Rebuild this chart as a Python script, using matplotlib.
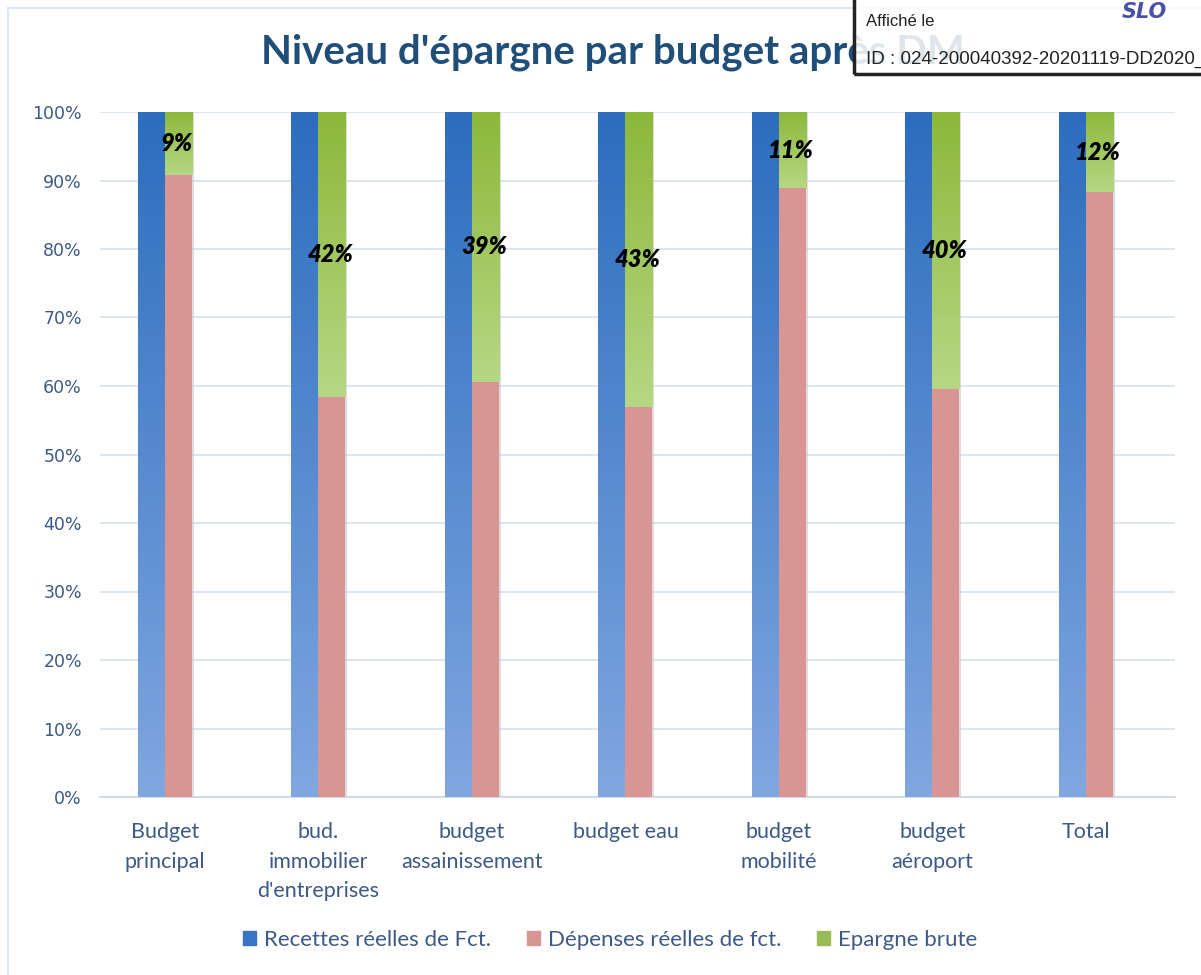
import numpy as np
import matplotlib
matplotlib.use("Agg")
import matplotlib.pyplot as plt
from matplotlib.colors import LinearSegmentedColormap
from matplotlib.patches import Rectangle, Patch

# data (% of Recettes réelles de fonctionnement)
categories = ["Budget\nprincipal", "bud.\nimmobilier\nd'entreprises", "budget\nassainissement",
              "budget eau", "budget\nmobilité", "budget\naéroport", "Total"]
recettes = [100, 100, 100, 100, 100, 100, 100]
depenses = [90.8, 58.4, 60.6, 57.0, 88.9, 59.6, 88.3]
epargne = [9.2, 41.6, 39.4, 43.0, 11.1, 40.4, 11.7]
series_names = ["Recettes réelles de Fct.", "Dépenses réelles de fct.", "Epargne brute"]
yticks = [0, 10, 20, 30, 40, 50, 60, 70, 80, 90, 100]

text_col = "#3C5A85"
grid_col = "#D6E1F1"
blue_cmap = LinearSegmentedColormap.from_list("b", ["#80A7E0", "#2C6DBE"])
green_cmap = LinearSegmentedColormap.from_list("g", ["#B6D784", "#8CB83A"])
pink = "#D99594"

plt.rcParams['font.family'] = ['Lato', 'DejaVu Sans']

fig = plt.figure(figsize=(12.01, 9.75), dpi=100)
ax = fig.add_axes([100/1201, 1-797/975, 1075/1201, 685/975])

w = 0.176
grad = np.linspace(0, 1, 256).reshape(-1, 1)
x = np.arange(len(categories))

for i in x:
    # blue bar with vertical gradient
    ax.imshow(grad, cmap=blue_cmap, origin="lower", aspect="auto",
              extent=[i - w, i, 0, recettes[i]], zorder=3)
    # pink bar
    ax.bar(i + w/2, depenses[i], width=w, color=pink, zorder=3, linewidth=0)
    # green bar stacked
    ax.imshow(grad, cmap=green_cmap, origin="lower", aspect="auto",
              extent=[i, i + w, depenses[i], depenses[i] + epargne[i]], zorder=3)
    # light shadow on right edge
    ax.plot([i + w + 0.006, i + w + 0.006], [0, 100], color="#C8C8C8", lw=1.5, alpha=0.6, zorder=2)
    ax.text(i + w/2 - 0.01, depenses[i] + epargne[i]/2, f"{round(epargne[i])}%",
            ha="center", va="center", fontsize=17, fontweight="heavy", fontstyle="italic",
            color="black", zorder=5)

ax.set_xlim(-0.423, 6.58)
ax.set_ylim(0, 100)
ax.set_yticks(yticks)
ax.set_yticklabels([f"{t}%" for t in yticks], fontsize=12.5, color=text_col, family="DejaVu Sans")
ax.set_xticks(x)
ax.set_xticklabels(categories, fontsize=15.5, color=text_col, linespacing=1.6, va="top")
ax.tick_params(axis="y", length=0, pad=13)
ax.tick_params(axis="x", length=0, pad=18)
ax.grid(axis="y", color=grid_col, lw=1.2, zorder=0)
for s in ["top", "right", "left"]:
    ax.spines[s].set_visible(False)
ax.spines["bottom"].set_color("#C9D5E8")
ax.spines["bottom"].set_linewidth(1.2)

fig.text(261/1201, 1-52/975, "Niveau d'épargne par budget après DM", fontsize=29,
         fontweight="bold", color="#1F4E79", ha="left", va="center", zorder=1)

handles = [Patch(color="#3A75C4"), Patch(color=pink), Patch(color="#9BBB59")]
fig.legend(handles, series_names, loc="center", bbox_to_anchor=(0.508, 1-940/975), ncol=3,
           frameon=False, fontsize=16, handlelength=0.6, handleheight=0.6,
           columnspacing=1.6, handletextpad=0.35, labelcolor=text_col)

# outer chart border
fig.patches.append(Rectangle((8/1201, -0.05), 1.2, 1 - 8/975 + 0.05, transform=fig.transFigure,
                             fill=False, edgecolor="#DCE6F2", lw=1.5, zorder=0))

# "Affiché le" stamp overlapping the top right corner (title shows faintly through)
stamp_xy = (854/1201, 1-74/975)
fig.patches.append(Rectangle(stamp_xy, 400/1201, 80/975, transform=fig.transFigure,
                             facecolor=(1, 1, 1, 0.86), edgecolor="none", zorder=10))
fig.patches.append(Rectangle(stamp_xy, 400/1201, 80/975, transform=fig.transFigure,
                             fill=False, edgecolor="#222222", lw=2.5, zorder=10))
fig.text(866/1201, 1-22/975, "Affiché le", fontsize=12, family="Liberation Sans",
         color="#222222", va="center", zorder=11)
fig.text(866/1201, 1-59/975, "ID : 024-200040392-20201119-DD2020_", fontsize=13.5,
         family="Liberation Sans", color="#222222", va="center", zorder=11)
fig.text(1122/1201, 1-12/975, "SLO", fontsize=15, fontweight="bold", fontstyle="italic",
         family="DejaVu Sans", color="#4A4FA8", va="center", zorder=11)

fig.savefig("out.png", dpi=100)
